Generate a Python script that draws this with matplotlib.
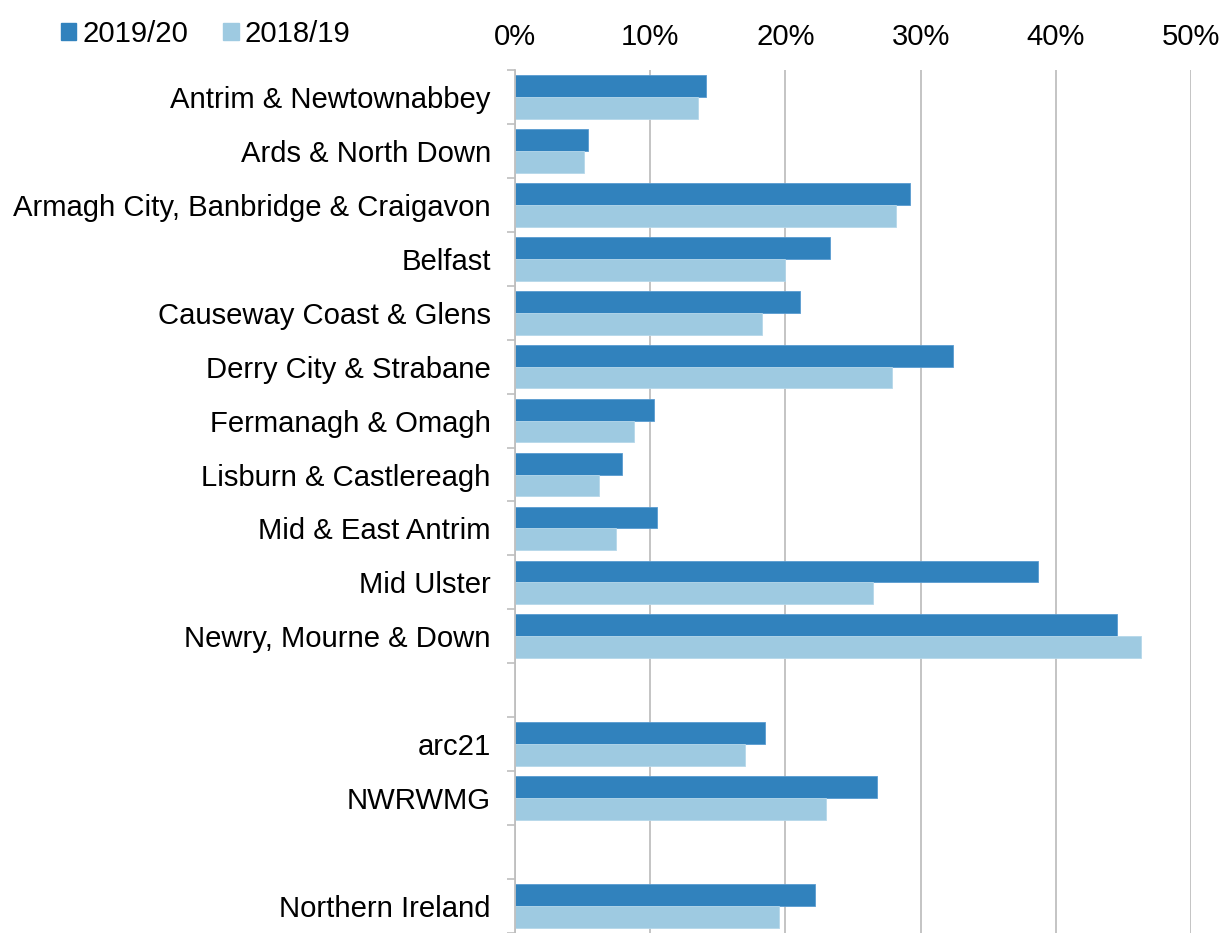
import matplotlib.pyplot as plt
from matplotlib.ticker import PercentFormatter, FixedLocator
from matplotlib.patches import Patch
import numpy as np

plt.rcParams["font.family"] = ["Liberation Sans", "DejaVu Sans"]

# categories (blank strings are the spacer rows)
categories = [
    "Antrim & Newtownabbey", "Ards & North Down",
    "Armagh City, Banbridge & Craigavon", "Belfast",
    "Causeway Coast & Glens", "Derry City & Strabane",
    "Fermanagh & Omagh", "Lisburn & Castlereagh", "Mid & East Antrim",
    "Mid Ulster", "Newry, Mourne & Down", "",
    "arc21", "NWRWMG", "", "Northern Ireland",
]
# percentages, None for spacer rows
y2019_20 = [14.1, 5.4, 29.2, 23.3, 21.1, 32.4, 10.3, 7.9, 10.5, 38.7, 44.5,
            None, 18.5, 26.8, None, 22.2]
y2018_19 = [13.5, 5.1, 28.2, 20.0, 18.3, 27.9, 8.8, 6.2, 7.5, 26.5, 46.3,
            None, 17.0, 23.0, None, 19.5]

dark = "#3182BD"
light = "#9ECAE1"
grey = "#BFBFBF"
fs = 21.1

fig = plt.figure(figsize=(12.24, 9.33), dpi=100)
ax = fig.add_axes([0.4208, 0.0, 0.973 - 0.4208, 0.925])

y = np.arange(len(categories))
h = 0.405
v1 = [np.nan if v is None else v for v in y2019_20]
v2 = [np.nan if v is None else v for v in y2018_19]
ax.barh(y - h / 2, v1, height=h, color=dark, edgecolor="#5a9bd0", linewidth=0.6)
ax.barh(y + h / 2, v2, height=h, color=light, edgecolor="#b5d7ea", linewidth=0.6)

ax.set_ylim(len(categories) - 0.5, -0.5)
ax.set_xlim(0, 50)
ax.set_yticks(y)
ax.set_yticklabels(categories, fontsize=fs)
ax.yaxis.set_minor_locator(FixedLocator(np.arange(-0.5, len(categories), 1)))
ax.tick_params(axis="y", which="major", length=0, pad=17.5)
ax.tick_params(axis="y", which="minor", length=6, color=grey, width=1.2)

ax.xaxis.tick_top()
ax.set_xticks(np.arange(0, 51, 10))
ax.xaxis.set_major_formatter(PercentFormatter(decimals=0))
ax.tick_params(axis="x", length=0, labelsize=fs, pad=13.5)
ax.grid(axis="x", color=grey, linewidth=1.3)
ax.set_axisbelow(True)

for s in ["top", "right", "bottom"]:
    ax.spines[s].set_visible(False)
ax.spines["left"].set_color(grey)
ax.spines["left"].set_linewidth(1.3)

handles = [Patch(color=dark, label="2019/20"), Patch(color=light, label="2018/19")]
fig.legend(handles=handles, loc="upper left", bbox_to_anchor=(0.0498, 0.979), ncol=2,
           frameon=False, fontsize=fs, handlelength=0.53, handleheight=0.53,
           handletextpad=0.2, columnspacing=1.2, borderpad=0, borderaxespad=0)

fig.savefig("out.png", dpi=100)
